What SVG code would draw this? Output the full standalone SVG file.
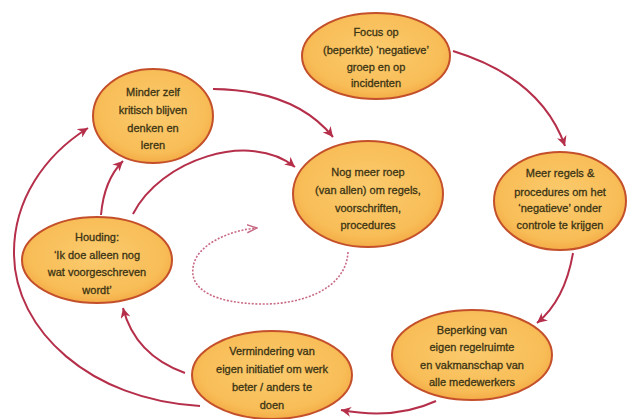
<svg xmlns="http://www.w3.org/2000/svg" width="633" height="419" viewBox="0 0 633 419">
<style>
.node ellipse{fill:url(#g);stroke:#C4502B;stroke-width:2}
.node text{font-family:"Liberation Sans",Arial,sans-serif;font-size:11px;fill:#3b3414;stroke:#3b3414;stroke-width:0.3;text-anchor:middle}
.c{fill:none;stroke:#B52F4A;stroke-width:2}
.d{fill:none;stroke:#C86A84;stroke-width:1.6;stroke-dasharray:2 1.6}
</style>
<defs>
<radialGradient id="g" cx="0.5" cy="0.45" r="0.6">
<stop offset="0" stop-color="#FBCB6E"/>
<stop offset="0.75" stop-color="#F8BD57"/>
<stop offset="1" stop-color="#F2A43F"/>
</radialGradient>
<marker id="a" markerWidth="11" markerHeight="10" refX="10" refY="5" orient="auto" markerUnits="userSpaceOnUse">
<path d="M0,0 L10,5 L0,10 L3,5 z" fill="#B52F4A"/>
</marker>
<marker id="ad" markerWidth="11" markerHeight="10" refX="10" refY="5" orient="auto" markerUnits="userSpaceOnUse">
<path d="M0,1 L10,5 L0,9" fill="none" stroke="#C86A84" stroke-width="1.5"/>
</marker>
</defs>
<rect width="633" height="419" fill="#fff"/>
<g id="connectors">
<path class="c" d="M453,51 Q541,78 565,146" marker-end="url(#a)"/>
<path class="c" d="M573,253 Q565,300 537,323" marker-end="url(#a)"/>
<path class="c" d="M436,401 Q395,420 341,410" marker-end="url(#a)"/>
<path class="c" d="M185,373 Q135,355 123,308" marker-end="url(#a)"/>
<path class="c" d="M200,406 C90,400 15,330 14,255 C13,200 45,155 88,128" marker-end="url(#a)"/>
<path class="c" d="M101,215 Q104,180 123,161" marker-end="url(#a)"/>
<path class="c" d="M133,214 C160,160 250,130 295,167" marker-end="url(#a)"/>
<path class="c" d="M213,89 Q295,90 333,137" marker-end="url(#a)"/>
<path class="d" d="M348,252 C346,290 300,305 260,304 C215,303 190,290 193,268 C195,245 230,230 257,228" marker-end="url(#ad)"/>
</g>
<g id="n-minder" class="node">
<ellipse cx="153" cy="116" rx="60" ry="47"/>
<text x="153" y="96">Minder zelf</text>
<text x="153" y="114">kritisch blijven</text>
<text x="153" y="132">denken en</text>
<text x="153" y="149">leren</text>
</g>
<g id="n-focus" class="node">
<ellipse cx="376" cy="56" rx="74" ry="43"/>
<text x="376" y="36">Focus op</text>
<text x="376" y="54">(beperkte) ‘negatieve’</text>
<text x="376" y="71">groep en op</text>
<text x="376" y="87">incidenten</text>
</g>
<g id="n-roep" class="node">
<ellipse cx="368" cy="194" rx="75" ry="53"/>
<text x="368" y="176">Nog meer roep</text>
<text x="368" y="194">(van allen) om regels,</text>
<text x="368" y="212">voorschriften,</text>
<text x="368" y="229">procedures</text>
</g>
<g id="n-regels" class="node">
<ellipse cx="560" cy="201" rx="66" ry="49"/>
<text x="560" y="177">Meer regels &amp;</text>
<text x="560" y="196">procedures om het</text>
<text x="560" y="212">‘negatieve’ onder</text>
<text x="560" y="229">controle te krijgen</text>
</g>
<g id="n-beperking" class="node">
<ellipse cx="472" cy="355" rx="80" ry="45"/>
<text x="472" y="334">Beperking van</text>
<text x="472" y="351">eigen regelruimte</text>
<text x="472" y="369">en vakmanschap van</text>
<text x="472" y="386">alle medewerkers</text>
</g>
<g id="n-vermindering" class="node">
<ellipse cx="272" cy="375" rx="80" ry="44"/>
<text x="272" y="355">Vermindering van</text>
<text x="272" y="373">eigen initiatief om werk</text>
<text x="272" y="391">beter / anders  te</text>
<text x="272" y="409">doen</text>
</g>
<g id="n-houding" class="node">
<ellipse cx="97" cy="260" rx="75" ry="43"/>
<text x="97" y="241">Houding:</text>
<text x="97" y="259">‘Ik doe alleen nog</text>
<text x="97" y="276">wat voorgeschreven</text>
<text x="97" y="294">wordt’</text>
</g>
</svg>
